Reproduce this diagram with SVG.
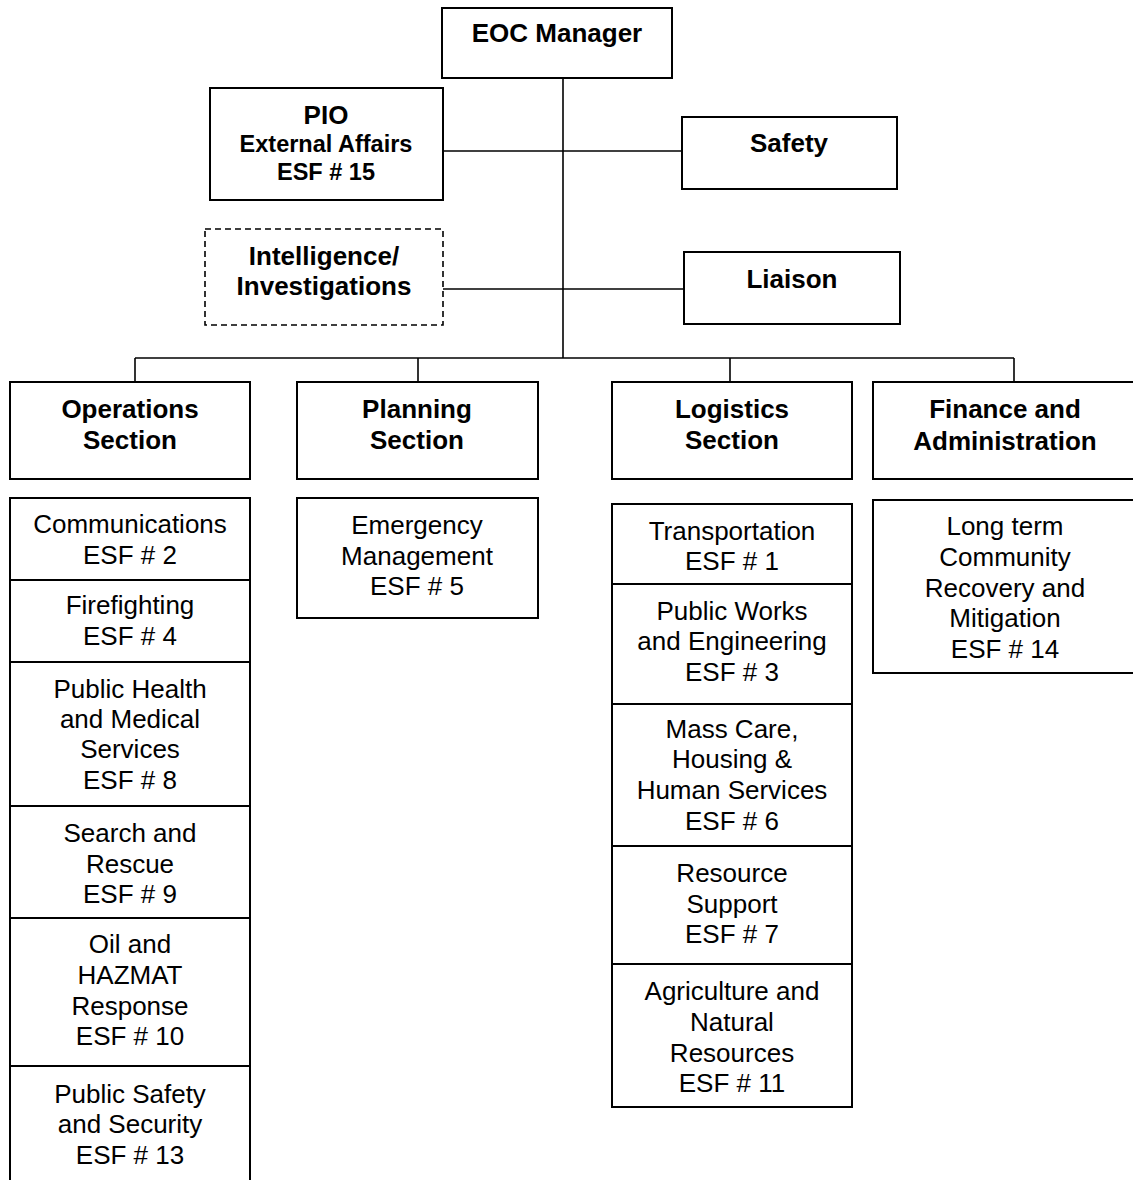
<svg xmlns="http://www.w3.org/2000/svg" width="1133" height="1180" viewBox="0 0 1133 1180">
<style>
  .box { fill: #fff; stroke: #000; stroke-width: 2; }
  .dash { fill: #fff; stroke: #000; stroke-width: 1.6; stroke-dasharray: 6 4; }
  .con { stroke: #000; stroke-width: 1.6; fill: none; }
  text { font-family: "Liberation Sans", Arial, sans-serif; text-anchor: middle; fill: #000; }
  .h { font-weight: bold; font-size: 26px; }
  .hs { font-weight: bold; font-size: 23.5px; }
  .t { font-size: 26px; }
</style>
<rect width="1133" height="1180" fill="#fff"/>
<g id="connectors">
  <line class="con" x1="563" y1="78" x2="563" y2="358"/>
  <line class="con" x1="443" y1="151" x2="682" y2="151"/>
  <line class="con" x1="443" y1="289" x2="684" y2="289"/>
  <line class="con" x1="135" y1="358" x2="1014" y2="358"/>
  <line class="con" x1="135" y1="358" x2="135" y2="382"/>
  <line class="con" x1="418" y1="358" x2="418" y2="382"/>
  <line class="con" x1="730" y1="358" x2="730" y2="382"/>
  <line class="con" x1="1014" y1="358" x2="1014" y2="382"/>
</g>
<g id="eoc-manager">
  <rect class="box" x="442" y="8" width="230" height="70"/>
  <text class="h" x="557" y="42">EOC Manager</text>
</g>
<g id="pio">
  <rect class="box" x="210" y="88" width="233" height="112"/>
  <text class="h" x="326" y="124">PIO</text>
  <text class="hs" x="326" y="152">External Affairs</text>
  <text class="hs" x="326" y="180">ESF # 15</text>
</g>
<g id="safety">
  <rect class="box" x="682" y="117" width="215" height="72"/>
  <text class="h" x="789" y="152">Safety</text>
</g>
<g id="intelligence">
  <rect class="dash" x="205" y="229" width="238" height="96"/>
  <text class="h" x="324" y="265">Intelligence/</text>
  <text class="h" x="324" y="295">Investigations</text>
</g>
<g id="liaison">
  <rect class="box" x="684" y="252" width="216" height="72"/>
  <text class="h" x="792" y="288">Liaison</text>
</g>
<g id="operations">
  <rect class="box" x="10" y="382" width="240" height="97"/>
  <text class="h" x="130" y="418">Operations</text>
  <text class="h" x="130" y="449">Section</text>
</g>
<g id="planning">
  <rect class="box" x="297" y="382" width="241" height="97"/>
  <text class="h" x="417" y="418">Planning</text>
  <text class="h" x="417" y="449">Section</text>
</g>
<g id="logistics">
  <rect class="box" x="612" y="382" width="240" height="97"/>
  <text class="h" x="732" y="418">Logistics</text>
  <text class="h" x="732" y="449">Section</text>
</g>
<g id="finance">
  <rect class="box" x="873" y="382" width="270" height="97"/>
  <text class="h" x="1005" y="418">Finance and</text>
  <text class="h" x="1005" y="450">Administration</text>
</g>
<g id="esf2">
  <rect class="box" x="10" y="498" width="240" height="82"/>
  <text class="t" x="130" y="533">Communications</text>
  <text class="t" x="130" y="564">ESF # 2</text>
</g>
<g id="esf4">
  <rect class="box" x="10" y="580" width="240" height="82"/>
  <text class="t" x="130" y="614">Firefighting</text>
  <text class="t" x="130" y="645">ESF # 4</text>
</g>
<g id="esf8">
  <rect class="box" x="10" y="662" width="240" height="144"/>
  <text class="t" x="130" y="698">Public Health</text>
  <text class="t" x="130" y="728">and Medical</text>
  <text class="t" x="130" y="758">Services</text>
  <text class="t" x="130" y="789">ESF # 8</text>
</g>
<g id="esf9">
  <rect class="box" x="10" y="806" width="240" height="112"/>
  <text class="t" x="130" y="842">Search and</text>
  <text class="t" x="130" y="873">Rescue</text>
  <text class="t" x="130" y="903">ESF # 9</text>
</g>
<g id="esf10">
  <rect class="box" x="10" y="918" width="240" height="148"/>
  <text class="t" x="130" y="953">Oil and</text>
  <text class="t" x="130" y="984">HAZMAT</text>
  <text class="t" x="130" y="1015">Response</text>
  <text class="t" x="130" y="1045">ESF # 10</text>
</g>
<g id="esf13">
  <rect class="box" x="10" y="1066" width="240" height="130"/>
  <text class="t" x="130" y="1103">Public Safety</text>
  <text class="t" x="130" y="1133">and Security</text>
  <text class="t" x="130" y="1164">ESF # 13</text>
</g>
<g id="esf5">
  <rect class="box" x="297" y="498" width="241" height="120"/>
  <text class="t" x="417" y="534">Emergency</text>
  <text class="t" x="417" y="565">Management</text>
  <text class="t" x="417" y="595">ESF # 5</text>
</g>
<g id="esf1">
  <rect class="box" x="612" y="504" width="240" height="80"/>
  <text class="t" x="732" y="540">Transportation</text>
  <text class="t" x="732" y="570">ESF # 1</text>
</g>
<g id="esf3">
  <rect class="box" x="612" y="584" width="240" height="120"/>
  <text class="t" x="732" y="620">Public Works</text>
  <text class="t" x="732" y="650">and Engineering</text>
  <text class="t" x="732" y="681">ESF # 3</text>
</g>
<g id="esf6">
  <rect class="box" x="612" y="704" width="240" height="142"/>
  <text class="t" x="732" y="738">Mass Care,</text>
  <text class="t" x="732" y="768">Housing &amp;</text>
  <text class="t" x="732" y="799">Human Services</text>
  <text class="t" x="732" y="830">ESF # 6</text>
</g>
<g id="esf7">
  <rect class="box" x="612" y="846" width="240" height="118"/>
  <text class="t" x="732" y="882">Resource</text>
  <text class="t" x="732" y="913">Support</text>
  <text class="t" x="732" y="943">ESF # 7</text>
</g>
<g id="esf11">
  <rect class="box" x="612" y="964" width="240" height="143"/>
  <text class="t" x="732" y="1000">Agriculture and</text>
  <text class="t" x="732" y="1031">Natural</text>
  <text class="t" x="732" y="1062">Resources</text>
  <text class="t" x="732" y="1092">ESF # 11</text>
</g>
<g id="esf14">
  <rect class="box" x="873" y="500" width="270" height="173"/>
  <text class="t" x="1005" y="535">Long term</text>
  <text class="t" x="1005" y="566">Community</text>
  <text class="t" x="1005" y="597">Recovery and</text>
  <text class="t" x="1005" y="627">Mitigation</text>
  <text class="t" x="1005" y="658">ESF # 14</text>
</g>
</svg>
